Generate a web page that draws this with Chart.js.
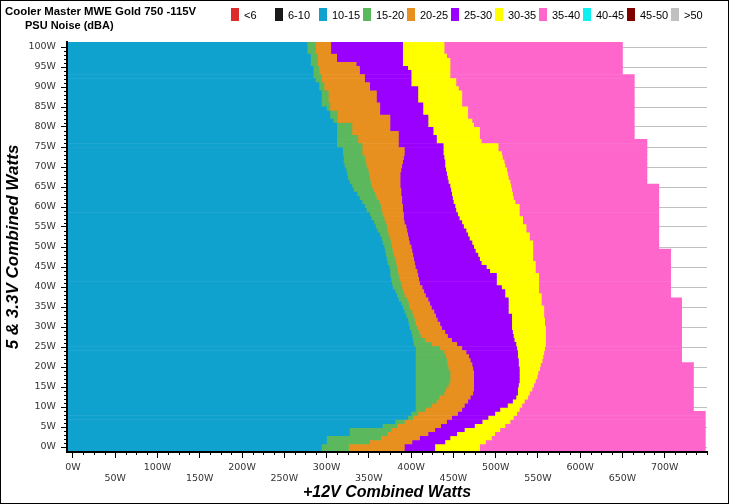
<!DOCTYPE html>
<html>
<head>
<meta charset="utf-8">
<title>PSU Noise</title>
<script src="https://cdn.jsdelivr.net/npm/chart.js@4.4.1/dist/chart.umd.min.js"></script>
<style>
  html, body { margin: 0; padding: 0; background: #fff; }
  #frame { position: relative; width: 727px; height: 502px; border: 1px solid #000; overflow: hidden; }
  #chart { position: absolute; left: 0; top: 0; }
  .head { position: absolute; font-family: "Liberation Sans", Arial, sans-serif; font-weight: bold; font-size: 11px; color: #000; white-space: nowrap; }
  .item { position: absolute; top: 7px; height: 14px; white-space: nowrap; font-family: "Liberation Sans", Arial, sans-serif; font-size: 11px; color: #000; }
  .item i { position: absolute; left: 0; top: 0; width: 8px; height: 13px; }
  .item span { position: absolute; left: 13px; top: 0; line-height: 14px; }
</style>
</head>
<body>
<div id="frame">
  <canvas id="chart" width="727" height="502"></canvas>
  <div class="head" style="left:4px;top:4px;font-size:11.4px">Cooler Master MWE Gold 750 -115V</div>
  <div class="head" style="left:24px;top:18px">PSU Noise (dBA)</div>
  <div id="legend"></div>
</div>
<script>
// noise bands (legend order)
var bandLabels = ['<6', '6-10', '10-15', '15-20', '20-25', '25-30', '30-35', '35-40', '40-45', '45-50', '>50'];
var bandColors = ['#dd2a2a', '#1a1a1a', '#10a2cf', '#5cb85c', '#e8901f', '#9a00ff', '#ffff00', '#ff66cc', '#11f0f0', '#800000', '#c0c0c0'];

// 5 & 3.3V combined load per row (W)
var rowWatts = Array.from({length: 101}, (v, k) => k);

// +12V load (W) where each band ends, one value per row (row 0 = 0W ... row 100 = 100W)
var edge10to15 = [
  294,294,300,300,327,327,366,381,396,400,
  405,405,405,405,405,405,405,405,405,405,
  405,405,405,405,405,405,403,402,401,400,
  398,397,396,394,392,390,388,385,383,381,
  378,377,376,375,375,374,372,371,370,369,
  368,366,365,363,360,358,356,353,351,347,
  345,342,339,336,332,330,327,325,324,323,
  321,320,320,319,319,312,312,312,312,312,
  312,308,304,304,300,294,294,294,294,291,
  291,287,284,284,284,281,281,281,277,277,
  277
];
var edge15to20 = [
  326,326,351,364,372,376,383,392,402,408,
  417,424,430,433,439,441,444,446,446,446,
  444,443,442,441,439,434,424,416,411,409,
  407,405,404,402,401,398,397,395,392,391,
  389,388,386,385,384,383,382,381,379,378,
  377,376,375,373,372,371,370,368,366,365,
  364,362,359,357,355,353,352,351,350,349,
  347,346,345,342,342,342,337,337,330,330,
  330,313,313,313,304,304,302,302,302,297,
  297,294,294,291,291,289,289,289,287,287,
  287
];
var edge20to25 = [
  392,392,401,410,420,428,435,442,448,455,
  460,463,467,470,473,474,474,474,474,474,
  473,472,470,468,465,460,454,448,443,440,
  436,434,431,429,427,424,422,420,417,415,
  413,410,409,408,407,405,404,403,402,401,
  400,398,397,396,395,394,392,391,391,390,
  390,389,389,388,388,387,387,387,387,388,
  389,390,391,392,392,385,385,385,385,375,
  375,375,375,363,363,363,359,359,359,351,
  351,345,345,339,339,335,312,312,305,305,
  305
];
var edge25to30 = [
  428,428,440,446,454,463,475,484,491,499,
  505,514,520,524,526,526,527,528,528,528,
  528,527,527,526,526,525,524,522,521,520,
  519,519,519,519,515,515,515,515,511,511,
  507,501,501,501,493,489,483,481,479,476,
  474,472,469,467,465,462,460,457,455,453,
  452,450,449,448,447,446,444,443,442,441,
  440,440,439,438,438,438,430,430,426,426,
  420,420,420,414,414,414,408,408,408,408,
  400,400,400,400,396,390,390,390,390,390,
  390
];
var edge30to35 = [
  481,481,488,495,499,505,511,517,521,525,
  528,531,534,538,540,543,545,547,549,550,
  552,553,555,556,557,558,559,559,559,559,
  559,558,558,557,557,557,554,554,554,551,
  551,551,551,551,547,547,547,544,544,544,
  544,544,540,540,536,536,532,532,528,528,
  528,523,521,520,519,518,517,515,514,513,
  511,510,508,507,503,503,483,481,481,481,
  474,472,467,467,467,460,460,460,460,456,
  453,453,446,446,446,446,446,442,439,439,
  439
];
var edge35to40 = [
  748,748,748,748,748,748,748,748,748,748,
  734,734,734,734,734,734,734,734,734,734,
  734,734,720,720,720,720,720,720,720,720,
  720,720,720,720,720,720,720,720,707,707,
  707,707,707,707,707,707,707,707,707,707,
  693,693,693,693,693,693,693,693,693,693,
  693,693,693,693,693,693,679,679,679,679,
  679,679,679,679,679,679,679,664,664,664,
  664,664,664,664,664,664,664,664,664,664,
  664,664,664,650,650,650,650,650,650,650,
  650
];

// axes
var X_MIN = -7, X_MAX = 750;
var Y_MIN = -1.25, Y_MAX = 101.25;
var xTicks = [0, 50, 100, 150, 200, 250, 300, 350, 400, 450, 500, 550, 600, 650, 700];
var yTicks = [0, 5, 10, 15, 20, 25, 30, 35, 40, 45, 50, 55, 60, 65, 70, 75, 80, 85, 90, 95, 100];
var X_MINOR = 12.5, Y_MINOR = 1;

// band index -> edges; bands without points stay empty
var bandEdges = {2: edge10to15, 3: edge15to20, 4: edge20to25, 5: edge25to30, 6: edge30to35, 7: edge35to40};

var datasets = bandLabels.map(function (label, i) {
    var end = bandEdges[i];
    var start = bandEdges[i - 1];
    var data = [];
    if (end) {
        data = end.map((v, r) => [start ? start[r] : X_MIN, v]);
    }
    return {
        label: label,
        data: data,
        backgroundColor: bandColors[i],
        borderWidth: 0,
        grouped: false,
        barPercentage: 1,
        categoryPercentage: 1
    };
});

var minorTicks = {
    id: 'minorTicks',
    afterDraw: function (chart) {
        var ctx = chart.ctx, area = chart.chartArea;
        var xs = chart.scales.x, ys = chart.scales.yAxis;
        ctx.save();
        ctx.strokeStyle = '#000';
        ctx.lineWidth = 1;
        ctx.beginPath();
        for (var v = 0; v <= X_MAX; v += X_MINOR) {
            if (v % 50 === 0 && v <= 700) continue;
            var px = Math.round(xs.getPixelForValue(v)) + 0.5;
            ctx.moveTo(px, area.bottom);
            ctx.lineTo(px, area.bottom + 3);
        }
        for (var w = 0; w <= 100; w += Y_MINOR) {
            if (w % 5 === 0) continue;
            var py = Math.round(ys.getPixelForValue(w)) + 0.5;
            ctx.moveTo(area.left - 3, py);
            ctx.lineTo(area.left, py);
        }
        ctx.stroke();
        ctx.restore();
    }
};

var tickFont = {family: 'DejaVu Sans', size: 9.5, lineHeight: '11px'};
var titleFont = {family: 'Liberation Sans', size: 16, weight: 'bold', style: 'italic'};

new Chart(document.getElementById('chart').getContext('2d'), {
    type: 'bar',
    data: {labels: rowWatts, datasets: datasets},
    plugins: [minorTicks],
    options: {
        indexAxis: 'y',
        responsive: false,
        animation: false,
        devicePixelRatio: 1,
        layout: {padding: {top: 41, right: 21, bottom: 0, left: 0}},
        plugins: {legend: {display: false}, tooltip: {enabled: false}},
        scales: {
            x: {
                type: 'linear',
                min: X_MIN,
                max: X_MAX,
                afterFit: function (s) { s.height = 51; },
                afterBuildTicks: function (s) { s.ticks = xTicks.map(v => ({value: v})); },
                grid: {drawOnChartArea: false, tickLength: 6, tickColor: '#000'},
                border: {color: '#000', width: 2, z: 1},
                ticks: {
                    autoSkip: false, maxRotation: 0, padding: 4, color: '#333', font: tickFont,
                    callback: function (v) { return v % 100 === 0 ? v + 'W' : ['', v + 'W']; }
                },
                title: {display: true, text: '+12V Combined Watts', color: '#000', font: titleFont, padding: {top: 0, bottom: 1}}
            },
            y: {
                type: 'category',
                reverse: true,
                display: false
            },
            yAxis: {
                type: 'linear',
                position: 'left',
                offset: false,
                min: Y_MIN,
                max: Y_MAX,
                afterFit: function (s) { s.width = 66; },
                afterBuildTicks: function (s) { s.ticks = yTicks.map(v => ({value: v})); },
                grid: {offset: false, color: '#c0c0c0', tickColor: '#000', tickLength: 6},
                border: {color: '#000', width: 2, z: 1},
                ticks: {autoSkip: false, padding: 5, color: '#333', font: tickFont, callback: v => v + 'W'},
                title: {
                    display: true, text: '5 & 3.3V Combined Watts', color: '#000',
                    font: {family: 'Liberation Sans', size: 17, weight: 'bold', style: 'italic'},
                    padding: {top: 2, bottom: 0}
                }
            }
        }
    }
});

// legend row, built from the same band lists
var legend = document.getElementById('legend');
bandLabels.forEach(function (label, i) {
    var item = document.createElement('div');
    item.className = 'item';
    item.style.left = (230 + i * 44) + 'px';
    var box = document.createElement('i');
    box.style.background = bandColors[i];
    var text = document.createElement('span');
    text.textContent = label;
    item.appendChild(box);
    item.appendChild(text);
    legend.appendChild(item);
});
</script>
</body>
</html>
